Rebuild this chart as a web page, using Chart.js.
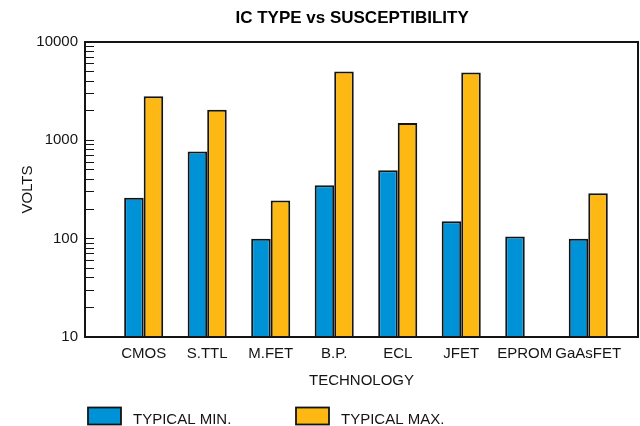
<!DOCTYPE html>
<html><head><meta charset="utf-8">
<script src="https://cdn.jsdelivr.net/npm/chart.js@4.4.1/dist/chart.umd.min.js"></script>
<style>html,body{margin:0;padding:0;background:#fff;}</style>
</head><body>
<canvas id="c" width="640" height="426"></canvas>
<script>
const TITLE = 'IC TYPE vs SUSCEPTIBILITY';
const CATEGORIES = ['CMOS', 'S.TTL', 'M.FET', 'B.P.', 'ECL', 'JFET', 'EPROM', 'GaAsFET'];
const TYPICAL_MIN = [260, 770, 100, 350, 495, 150, 105, 100];
const TYPICAL_MAX = [2800, 2050, 245, 5000, 1500, 4900, null, 290];
const SERIES_NAMES = ['TYPICAL MIN.', 'TYPICAL MAX.'];
const Y_LABELED_TICKS = [10, 100, 1000, 10000];
const X_TITLE = 'TECHNOLOGY';
const Y_TITLE = 'VOLTS';

const FONT = '"Liberation Sans", Arial, Helvetica, sans-serif';
const TEXT = '#141414';
const BLUE = '#0092d6';
const ORANGE = '#fdb813';

Chart.defaults.font.family = FONT;
Chart.defaults.color = TEXT;

const framePlugin = {
  id: 'frame',
  afterDatasetsDraw(chart) {
    const {ctx, chartArea: a} = chart;
    ctx.save();
    ctx.strokeStyle = TEXT;
    ctx.lineWidth = 2;
    ctx.strokeRect(a.left, a.top, a.right - a.left, a.bottom - a.top);
    ctx.restore();
  }
};

const titleLegendPlugin = {
  id: 'titleLegend',
  afterDraw(chart) {
    const {ctx, chartArea: a} = chart;
    ctx.save();
    // title
    ctx.font = 'bold 17px ' + FONT;
    ctx.fillStyle = '#000';
    ctx.textAlign = 'center';
    ctx.textBaseline = 'alphabetic';
    ctx.fillText(TITLE, a.left + (a.right - a.left) * 0.483, 22.5);
    // legend
    const offsets = [3, 211];
    const top = chart.height - 18.5;
    chart.data.datasets.forEach((ds, i) => {
      const x = a.left + offsets[i];
      ctx.fillStyle = ds.backgroundColor;
      ctx.fillRect(x, top, 33, 17);
      ctx.strokeStyle = TEXT;
      ctx.lineWidth = 1.8;
      ctx.strokeRect(x, top, 33, 17);
      ctx.font = '15px ' + FONT;
      ctx.fillStyle = TEXT;
      ctx.textAlign = 'left';
      ctx.fillText(ds.label, x + 45, top + 16);
    });
    ctx.restore();
  }
};

new Chart(document.getElementById('c'), {
  type: 'bar',
  data: {
    datasets: [
      {
        label: SERIES_NAMES[0],
        data: CATEGORIES.map((c, i) => ({x: i + 1, y: TYPICAL_MIN[i]})),
        backgroundColor: BLUE, borderColor: TEXT, borderWidth: 2
      },
      {
        label: SERIES_NAMES[1],
        data: CATEGORIES.map((c, i) => ({x: i + 1, y: TYPICAL_MAX[i]})),
        backgroundColor: ORANGE, borderColor: TEXT, borderWidth: 2
      }
    ]
  },
  options: {
    responsive: false,
    devicePixelRatio: 1,
    animation: false,
    categoryPercentage: 0.615,
    barPercentage: 1,
    layout: {padding: {top: 42, right: 2, bottom: 33, left: 0}},
    plugins: {legend: {display: false}, title: {display: false}, tooltip: {enabled: false}},
    scales: {
      x: {
        type: 'linear', min: 0.076, max: 8.783, offset: false, bounds: 'data',
        grid: {display: false, drawTicks: false, offset: false},
        border: {display: false},
        afterBuildTicks: s => { s.ticks = CATEGORIES.map((c, i) => ({value: i + 1})); },
        afterFit: s => { s.height = 56; },
        ticks: {
          autoSkip: false, maxRotation: 0, padding: 8,
          font: {size: 15}, color: TEXT,
          callback: v => CATEGORIES[v - 1] ?? ''
        },
        title: {display: true, text: X_TITLE, font: {size: 15}, color: TEXT, padding: {top: 0, bottom: 3}}
      },
      y: {
        type: 'logarithmic', min: 10, max: 10000,
        afterBuildTicks: s => {
          const t = [];
          for (let e = 1; e < 4; e++) for (let m = 1; m < 10; m++) t.push({value: m * Math.pow(10, e)});
          t.push({value: 10000});
          s.ticks = t;
        },
        afterFit: s => { s.width = 85; },
        grid: {display: true, drawOnChartArea: false, drawTicks: true, tickLength: -9, color: TEXT, lineWidth: 1},
        border: {display: false},
        ticks: {
          autoSkip: false, padding: 16, font: {size: 15}, color: TEXT,
          callback: v => Y_LABELED_TICKS.includes(v) ? String(v) : ''
        },
        title: {display: true, text: Y_TITLE, font: {size: 15}, color: TEXT, padding: {top: 19, bottom: 0}}
      }
    }
  },
  plugins: [framePlugin, titleLegendPlugin]
});
</script>
</body></html>
